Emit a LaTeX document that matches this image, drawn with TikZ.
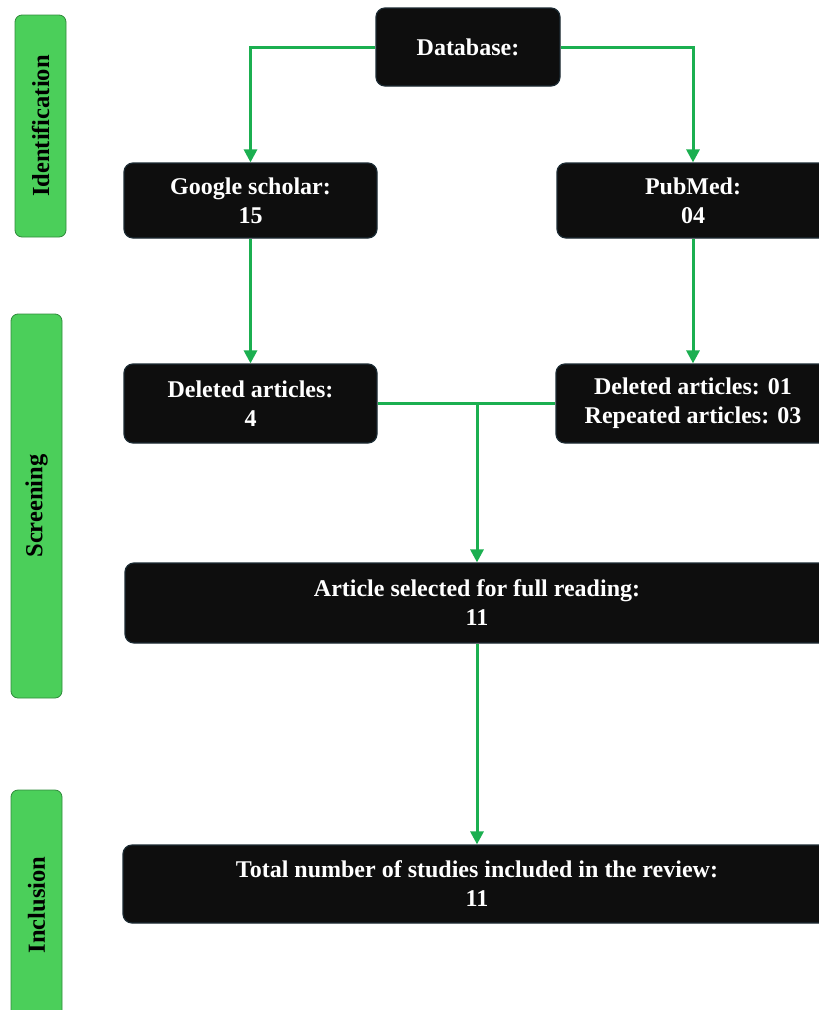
\documentclass[tikz,border=0pt]{standalone}
\usepackage{fontspec}
\setmainfont{Liberation Serif}
\usepackage{tikz}
\usetikzlibrary{arrows.meta}
\definecolor{boxfill}{HTML}{0E0E0E}
\definecolor{boxedge}{HTML}{1C2B33}
\definecolor{phasefill}{HTML}{4BCF5A}
\definecolor{phaseedge}{HTML}{2F8A3B}
\definecolor{flowgreen}{HTML}{1BAF50}

\begin{document}
\begin{tikzpicture}[x=1pt, y=-1pt,
	box/.style={draw=boxedge, line width=1.2pt, fill=boxfill, rounded corners=9pt, text=white, font=\bfseries\fontsize{24}{29}\selectfont, align=center, inner sep=0pt},
	phase/.style={draw=phaseedge, line width=0.8pt, fill=phasefill, rounded corners=7pt, rotate=90, minimum height=51pt, inner sep=0pt, font=\bfseries\fontsize{24.5}{29}\selectfont},
	flow/.style={draw=flowgreen, line width=3pt, -{Triangle[length=13pt,width=13pt]}}]
\useasboundingbox (0,0) rectangle (819,1010);
\clip (0,0) rectangle (819,1010);
\node[phase, minimum width=222pt] (ident) at (40.5,126) {Identification};
\node[phase, minimum width=384pt] (screen) at (36.5,506) {Screening};
\node[phase, minimum width=230pt] (incl) at (36.5,905) {Inclusion};
\node[box, minimum width=184pt, minimum height=78pt] (db) at (468,47) {Database:};
\node[box, minimum width=253pt, minimum height=75pt] (gs) at (250.5,200.5) {Google scholar:\\15};
\node[box, minimum width=272pt, minimum height=75pt] (pm) at (693,200.5) {PubMed:\\04};
\node[box, minimum width=253pt, minimum height=79pt] (dl) at (250.5,403.5) {Deleted articles:\\4};
\node[box, minimum width=274pt, minimum height=79pt] (dr) at (693,403.5) {Deleted articles: 01\\Repeated articles: 03};
\node[box, minimum width=704pt, minimum height=80pt] (sel) at (477,603) {Article selected for full reading:\\11};
\node[box, minimum width=708pt, minimum height=78pt] (tot) at (477,884) {Total number of studies included in the review:\\11};
\coordinate (join) at (dl.east -| sel.north);
\draw[flow] (db.west) -| (gs.north);
\draw[flow] (db.east) -| (pm.north);
\draw[flow] (gs.south) -- (dl.north);
\draw[flow] (pm.south) -- (dr.north);
\draw[flow, -] (dl.east) -- (dr.west);
\draw[flow] (join) -- (sel.north);
\draw[flow] (sel.south) -- (tot.north);
\end{tikzpicture}
\end{document}
